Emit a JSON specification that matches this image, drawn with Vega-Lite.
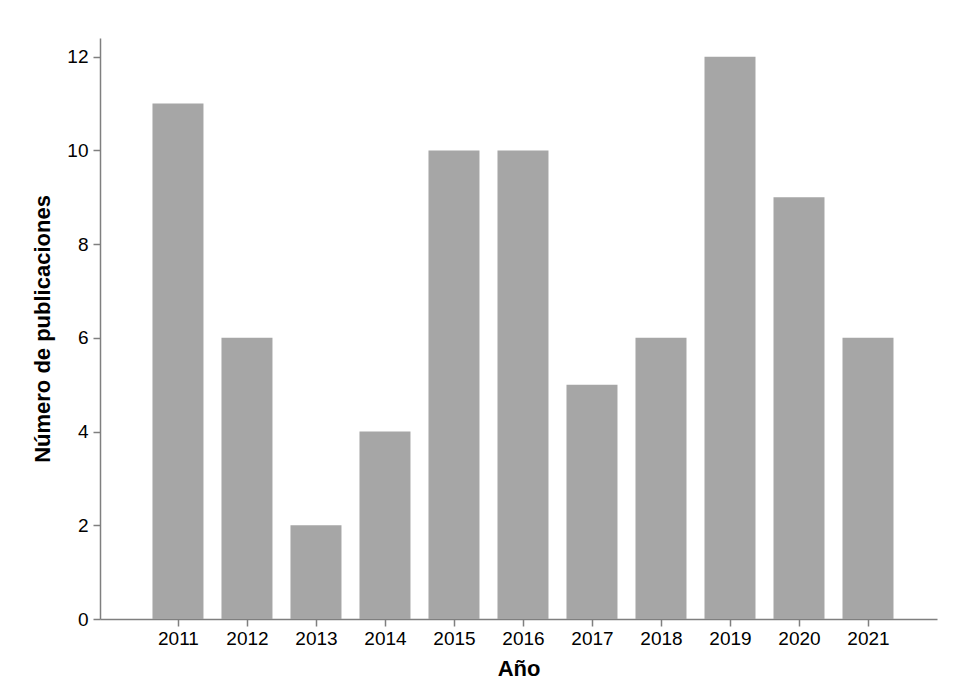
{
  "$schema": "https://vega.github.io/schema/vega-lite/v6.json",
  "width": 837,
  "height": 581,
  "autosize": "none",
  "padding": {"left": 100, "top": 38, "right": 40, "bottom": 64},
  "background": "white",
  "config": {
    "view": {"stroke": null},
    "font": "Liberation Sans",
    "axis": {"grid": false, "domainColor": "#7f7f7f", "tickColor": "#7f7f7f", "domainWidth": 1.5, "tickWidth": 1.5, "labelColor": "#000000", "titleColor": "#000000", "labelFontSize": 19, "titleFontSize": 22, "titleFontWeight": "bold", "tickSize": 7}
  },
  "data": {
    "values": [
      {"year": 2011, "count": 11},
      {"year": 2012, "count": 6},
      {"year": 2013, "count": 2},
      {"year": 2014, "count": 4},
      {"year": 2015, "count": 10},
      {"year": 2016, "count": 10},
      {"year": 2017, "count": 5},
      {"year": 2018, "count": 6},
      {"year": 2019, "count": 12},
      {"year": 2020, "count": 9},
      {"year": 2021, "count": 6}
    ]
  },
  "mark": {"type": "bar", "size": 51, "color": "#a6a6a6"},
  "encoding": {
    "x": {
      "field": "year",
      "type": "quantitative",
      "scale": {"domain": [2009.87, 2022], "nice": false, "zero": false, "padding": 0},
      "axis": {"title": "Año", "values": [2011, 2012, 2013, 2014, 2015, 2016, 2017, 2018, 2019, 2020, 2021], "format": "d", "labelPadding": 3, "titlePadding": 10, "labelFlush": false}
    },
    "y": {
      "field": "count",
      "type": "quantitative",
      "scale": {"domain": [0, 12.4], "nice": false},
      "axis": {"title": "Número de publicaciones", "values": [0, 2, 4, 6, 8, 10, 12], "labelPadding": 5, "titlePadding": 12}
    }
  }
}
